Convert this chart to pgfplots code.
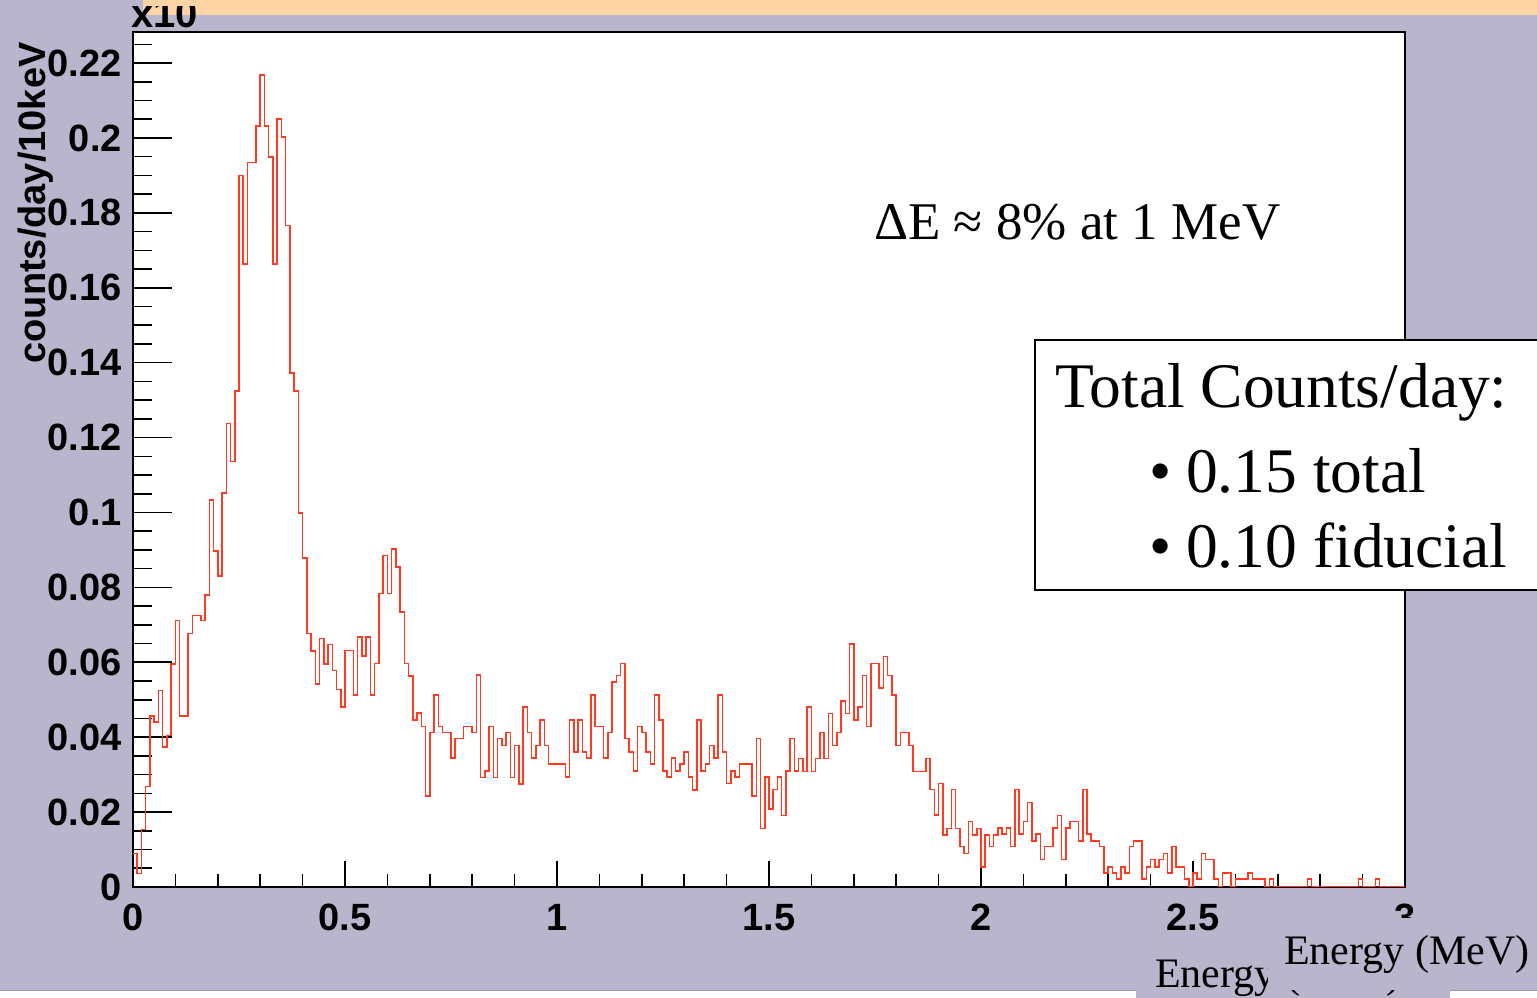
\documentclass[border=0pt]{standalone}
\usepackage{pgfplots}
\pgfplotsset{compat=1.18}
\usepackage{fontspec}
\setmainfont{Liberation Serif}
\newfontfamily\rootsans{Liberation Sans}

\definecolor{slidebg}{RGB}{184,181,204}
\definecolor{titlebar}{RGB}{255,213,165}
\definecolor{histred}{RGB}{255,58,32}
\definecolor{footline}{RGB}{150,148,176}

\newcommand\ticklab{\rootsans\bfseries\fontsize{38}{38}\selectfont}

\begin{document}
\begin{tikzpicture}
\useasboundingbox (0,0) rectangle (1537pt,998pt);
% slide background, footer line and title bar
\fill[white] (0,0) rectangle (1537pt,998pt);
\fill[slidebg] (0,7pt) rectangle (1537pt,998pt);
\draw[footline, line width=1pt] (0,7pt) -- (1537pt,7pt);
\fill[titlebar] (143pt,983pt) rectangle (1537pt,998pt);

% frame, y ticks and labels
\begin{axis}[
  at={(133pt,111pt)}, anchor=south west, scale only axis,
  width=1272pt, height=855pt,
  xmin=0, xmax=3, ymin=0, ymax=0.2283,
  axis background/.style={fill=white},
  axis line style={black, line width=2pt},
  tick align=inside, ytick pos=left,
  tick style={black, line width=1.6pt},
  major tick length=39pt, minor tick length=19pt,
  xtick=\empty,
  ytick={0,0.02,0.04,0.06,0.08,0.1,0.12,0.14,0.16,0.18,0.2,0.22},
  yticklabels={0,0.02,0.04,0.06,0.08,0.1,0.12,0.14,0.16,0.18,0.2,0.22},
  minor ytick={0.005,0.01,0.015,0.025,0.03,0.035,0.045,0.05,0.055,0.065,0.07,0.075,
    0.085,0.09,0.095,0.105,0.11,0.115,0.125,0.13,0.135,0.145,0.15,0.155,
    0.165,0.17,0.175,0.185,0.19,0.195,0.205,0.21,0.215,0.225},
  /pgf/number format/assume math mode=true,
  yticklabel style={font=\ticklab, anchor=east, inner sep=0pt, xshift=-11pt},
]
\end{axis}

% x ticks, labels and the spectrum
\begin{axis}[
  at={(133pt,111pt)}, anchor=south west, scale only axis,
  width=1272pt, height=855pt,
  xmin=0, xmax=3, ymin=0, ymax=0.2283,
  axis line style={black, line width=2pt},
  tick align=inside, xtick pos=left,
  tick style={black, line width=1.6pt},
  major tick length=26pt, minor tick length=13pt,
  ytick=\empty,
  xtick={0,0.5,1,1.5,2,2.5,3},
  xticklabels={0,0.5,1,1.5,2,2.5,3},
  minor xtick={0.1,0.2,0.3,0.4,0.6,0.7,0.8,0.9,1.1,1.2,1.3,1.4,1.6,1.7,1.8,1.9,
    2.1,2.2,2.3,2.4,2.6,2.7,2.8,2.9},
  /pgf/number format/assume math mode=true,
  xticklabel style={font=\ticklab, anchor=north, inner sep=0pt, yshift=-17pt},
]
\addplot[const plot, color=histred, line width=1.5pt] coordinates {
(0.00,0.009)(0.01,0.0036)(0.02,0.0153)(0.03,0.0268)(0.04,0.0457)(0.05,0.044)(0.06,0.0525)(0.07,0.0374)(0.08,0.0404)(0.09,0.0596)
(0.10,0.0711)(0.11,0.0457)(0.12,0.0457)(0.13,0.0677)(0.14,0.0725)(0.15,0.0725)(0.16,0.0711)(0.17,0.078)(0.18,0.1034)(0.19,0.0897)
(0.20,0.0831)(0.21,0.1052)(0.22,0.1238)(0.23,0.1136)(0.24,0.1325)(0.25,0.19)(0.26,0.1663)(0.27,0.1934)(0.28,0.1934)(0.29,0.2032)
(0.30,0.2168)(0.31,0.2032)(0.32,0.1949)(0.33,0.1663)(0.34,0.2051)(0.35,0.2003)(0.36,0.1766)(0.37,0.1373)(0.38,0.1325)(0.39,0.0999)
(0.40,0.0879)(0.41,0.0677)(0.42,0.063)(0.43,0.0542)(0.44,0.0663)(0.45,0.0595)(0.46,0.0647)(0.47,0.0578)(0.48,0.0528)(0.49,0.0481)
(0.50,0.0632)(0.51,0.0632)(0.52,0.0513)(0.53,0.0667)(0.54,0.0617)(0.55,0.0667)(0.56,0.0513)(0.57,0.0597)(0.58,0.0784)(0.59,0.0885)
(0.60,0.0784)(0.61,0.0903)(0.62,0.0854)(0.63,0.0734)(0.64,0.0597)(0.65,0.0564)(0.66,0.0446)(0.67,0.0464)(0.68,0.0428)(0.69,0.0243)
(0.70,0.0412)(0.71,0.0513)(0.72,0.0428)(0.73,0.0412)(0.74,0.0412)(0.75,0.0344)(0.76,0.0396)(0.77,0.0396)(0.78,0.0428)(0.79,0.0428)
(0.80,0.0412)(0.81,0.0566)(0.82,0.0293)(0.83,0.031)(0.84,0.0428)(0.85,0.0293)(0.86,0.0396)(0.87,0.0378)(0.88,0.0412)(0.89,0.0293)
(0.90,0.0378)(0.91,0.0275)(0.92,0.0481)(0.93,0.0412)(0.94,0.0344)(0.95,0.0378)(0.96,0.0446)(0.97,0.0378)(0.98,0.0328)(0.99,0.0328)
(1.00,0.0328)(1.01,0.0328)(1.02,0.0294)(1.03,0.0446)(1.04,0.036)(1.05,0.0446)(1.06,0.036)(1.07,0.0344)(1.08,0.0512)(1.09,0.0428)
(1.10,0.0428)(1.11,0.0344)(1.12,0.0412)(1.13,0.0548)(1.14,0.0565)(1.15,0.0597)(1.16,0.0397)(1.17,0.036)(1.18,0.031)(1.19,0.0428)
(1.20,0.0412)(1.21,0.036)(1.22,0.0328)(1.23,0.0512)(1.24,0.0446)(1.25,0.031)(1.26,0.0294)(1.27,0.0344)(1.28,0.031)(1.29,0.0328)
(1.30,0.036)(1.31,0.0294)(1.32,0.0259)(1.33,0.0446)(1.34,0.031)(1.35,0.0328)(1.36,0.0378)(1.37,0.0344)(1.38,0.0512)(1.39,0.036)
(1.40,0.0276)(1.41,0.031)(1.42,0.0294)(1.43,0.0328)(1.44,0.0328)(1.45,0.0328)(1.46,0.0243)(1.47,0.0397)(1.48,0.0156)(1.49,0.0294)
(1.50,0.0208)(1.51,0.026)(1.52,0.0294)(1.53,0.0191)(1.54,0.031)(1.55,0.0397)(1.56,0.031)(1.57,0.0343)(1.58,0.0309)(1.59,0.048)
(1.60,0.0309)(1.61,0.0343)(1.62,0.0412)(1.63,0.0343)(1.64,0.0463)(1.65,0.0378)(1.66,0.0412)(1.67,0.0497)(1.68,0.0463)(1.69,0.0649)
(1.70,0.0446)(1.71,0.048)(1.72,0.0565)(1.73,0.0428)(1.74,0.0597)(1.75,0.0597)(1.76,0.0531)(1.77,0.0615)(1.78,0.0565)(1.79,0.0513)
(1.80,0.0378)(1.81,0.0412)(1.82,0.0412)(1.83,0.0378)(1.84,0.0309)(1.85,0.0309)(1.86,0.0309)(1.87,0.0343)(1.88,0.026)(1.89,0.0192)
(1.90,0.0277)(1.91,0.0139)(1.92,0.0156)(1.93,0.026)(1.94,0.0156)(1.95,0.0108)(1.96,0.009)(1.97,0.0175)(1.98,0.0139)(1.99,0.0156)
(2.00,0.0054)(2.01,0.0139)(2.02,0.0108)(2.03,0.0139)(2.04,0.0158)(2.05,0.0141)(2.06,0.0158)(2.07,0.0108)(2.08,0.0261)(2.09,0.0141)
(2.10,0.0175)(2.11,0.0226)(2.12,0.0123)(2.13,0.0141)(2.14,0.0074)(2.15,0.0108)(2.16,0.0108)(2.17,0.0158)(2.18,0.0191)(2.19,0.0074)
(2.20,0.0158)(2.21,0.0175)(2.22,0.0175)(2.23,0.0123)(2.24,0.0261)(2.25,0.0141)(2.26,0.0123)(2.27,0.0123)(2.28,0.0108)(2.29,0.0038)
(2.30,0.0054)(2.31,0.0038)(2.32,0.0022)(2.33,0.0054)(2.34,0.0038)(2.35,0.0108)(2.36,0.0123)(2.37,0.0123)(2.38,0.0022)(2.39,0.0054)
(2.40,0.0074)(2.41,0.0054)(2.42,0.0074)(2.43,0.009)(2.44,0.0038)(2.45,0.0108)(2.46,0.0054)(2.47,0.0054)(2.48,0.0022)(2.49,0)
(2.50,0.0038)(2.51,0.0022)(2.52,0.009)(2.53,0.0074)(2.54,0.0074)(2.55,0.0022)(2.56,0)(2.57,0.0038)(2.58,0.0038)(2.59,0)
(2.60,0.0022)(2.61,0.0022)(2.62,0.0022)(2.63,0.0038)(2.64,0.0022)(2.65,0.0022)(2.66,0.0022)(2.67,0)(2.68,0.0022)(2.69,0)
(2.70,0)(2.71,0)(2.72,0)(2.73,0)(2.74,0)(2.75,0)(2.76,0)(2.77,0.0022)(2.78,0)(2.79,0)
(2.80,0)(2.81,0)(2.82,0)(2.83,0)(2.84,0)(2.85,0)(2.86,0)(2.87,0)(2.88,0)(2.89,0.0022)
(2.90,0)(2.91,0)(2.92,0)(2.93,0.0022)(2.94,0)(2.95,0)(2.96,0)(2.97,0)(2.98,0)(2.99,0)
(3.00,0)
};
\end{axis}

% exponent and y axis title
\begin{scope}
\clip (0,0) rectangle (1537pt,991pt);
\node[anchor=base west, inner sep=0pt] at (131pt,970pt)
  {\rootsans\bfseries\fontsize{40}{40}\selectfont x10};
\end{scope}
\node[rotate=90, anchor=base, inner sep=0pt] at (45pt,795pt)
  {\rootsans\bfseries\fontsize{38}{38}\selectfont counts/day/10keV};

% resolution note
\node[anchor=base west, inner sep=0pt] at (874pt,758pt)
  {\fontsize{53}{53}\selectfont ΔE ≈ 8\% at 1 MeV};

% rate box
\draw[fill=white, line width=2pt] (1035pt,408pt) rectangle (1570pt,658pt);
\node[anchor=base west, inner sep=0pt] at (1055pt,590pt)
  {\fontsize{63.5}{63.5}\selectfont Total Counts/day:};
\node[anchor=base west, inner sep=0pt] at (1149pt,505pt) {\fontsize{63.5}{63.5}\selectfont •};
\node[anchor=base west, inner sep=0pt] at (1186pt,505pt) {\fontsize{63.5}{63.5}\selectfont 0.15 total};
\node[anchor=base west, inner sep=0pt] at (1149pt,430pt) {\fontsize{63.5}{63.5}\selectfont •};
\node[anchor=base west, inner sep=0pt] at (1186pt,430pt) {\fontsize{63.5}{63.5}\selectfont 0.10 fiducial};

% x axis titles
\fill[slidebg] (1136pt,0) rectangle (1450pt,50pt);
\node[anchor=base west, inner sep=0pt] at (1155pt,10pt) {\fontsize{42}{42}\selectfont Energy (MeV)};
\fill[slidebg] (1268pt,8pt) rectangle (1537pt,80pt);
\node[anchor=base west, inner sep=0pt] at (1284pt,33pt) {\fontsize{42}{42}\selectfont Energy (MeV)};
\end{tikzpicture}
\end{document}
